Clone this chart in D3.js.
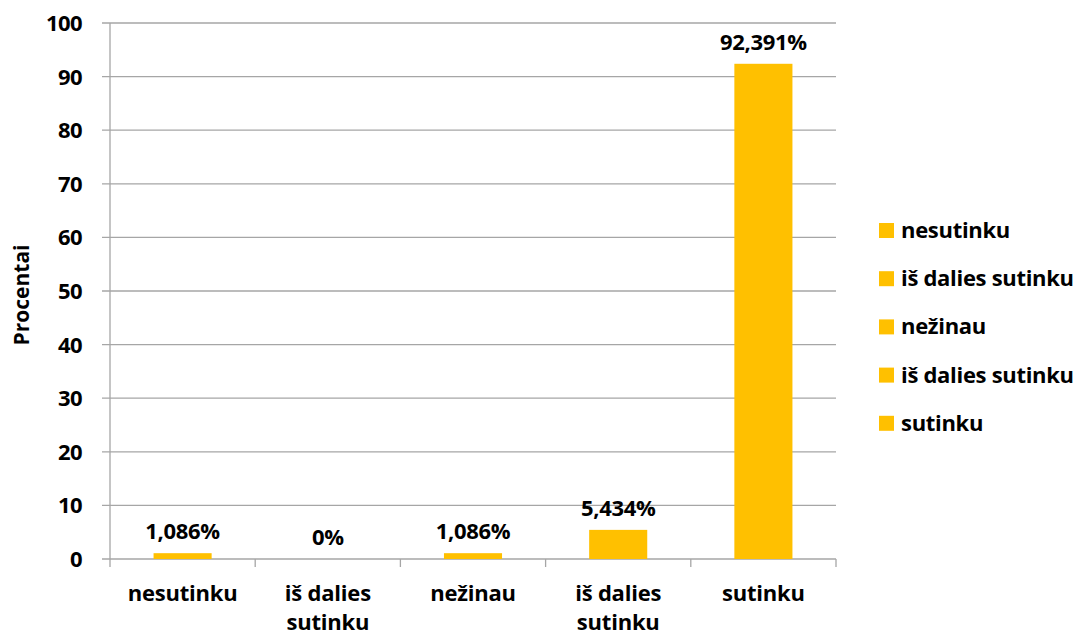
<!DOCTYPE html>
<html>
<head>
<meta charset="utf-8">
<script src="https://cdn.jsdelivr.net/npm/d3@7"></script>
<style>
  body { margin: 0; background: #fff; }
  text { font-family: "Open Sans", Lato, sans-serif; font-weight: bold; fill: #000; }
</style>
</head>
<body>
<div id="chart"></div>
<script>
// Data
const categories = ["nesutinku", "iš dalies sutinku", "nežinau", "iš dalies sutinku ", "sutinku"];
const axisLabels = [["nesutinku"], ["iš dalies", "sutinku"], ["nežinau"], ["iš dalies", "sutinku"], ["sutinku"]];
const values = [1.086, 0, 1.086, 5.434, 92.391];
const valueLabels = ["1,086%", "0%", "1,086%", "5,434%", "92,391%"];
const yTicks = [0, 10, 20, 30, 40, 50, 60, 70, 80, 90, 100];

const width = 1078, height = 636;
const margin = { top: 23, right: 242, bottom: 77, left: 110 };
const innerW = width - margin.left - margin.right;
const innerH = height - margin.top - margin.bottom;
const barColour = "#FFC000";
const gridColour = "#A6A6A6";
const fontSize = "22px";

const svg = d3.select("#chart")
  .append("svg")
  .attr("width", width)
  .attr("height", height);

const g = svg.append("g")
  .attr("transform", "translate(" + margin.left + "," + margin.top + ")");

// Scales
const x = d3.scaleBand()
  .domain(categories)
  .range([0, innerW])
  .paddingInner(0.6)
  .paddingOuter(0.3);
const xBand = d3.scaleBand().domain(categories).range([0, innerW]);
const y = d3.scaleLinear().domain([0, 100]).range([innerH, 0]);

// Gridlines
g.append("g")
  .selectAll("line")
  .data(yTicks)
  .enter()
  .append("line")
  .attr("x1", -8)
  .attr("x2", innerW)
  .attr("y1", d => y(d))
  .attr("y2", d => y(d))
  .attr("stroke", gridColour)
  .attr("stroke-width", 1.3);

// Y axis labels
g.append("g")
  .selectAll("text")
  .data(yTicks)
  .enter()
  .append("text")
  .attr("x", -28)
  .attr("y", d => y(d))
  .attr("dy", "0.36em")
  .attr("text-anchor", "end")
  .style("font-size", fontSize)
  .style("letter-spacing", "-0.6px")
  .text(d => d);

// Axis lines
g.append("line")
  .attr("x1", 0).attr("x2", 0)
  .attr("y1", 0).attr("y2", innerH)
  .attr("stroke", gridColour).attr("stroke-width", 1.3);

// X tick marks
const xTickPos = categories.map(c => xBand(c)).concat([innerW]);
g.append("g")
  .selectAll("line")
  .data(xTickPos)
  .enter()
  .append("line")
  .attr("x1", d => d).attr("x2", d => d)
  .attr("y1", innerH).attr("y2", innerH + 8)
  .attr("stroke", gridColour).attr("stroke-width", 1.3);

// Bars
g.append("g")
  .selectAll("rect")
  .data(values)
  .enter()
  .append("rect")
  .attr("x", (d, i) => x(categories[i]))
  .attr("width", x.bandwidth())
  .attr("y", d => y(d))
  .attr("height", d => innerH - y(d))
  .attr("fill", barColour);

// Value labels
g.append("g")
  .selectAll("text")
  .data(values)
  .enter()
  .append("text")
  .attr("x", (d, i) => xBand(categories[i]) + xBand.bandwidth() / 2)
  .attr("y", d => y(d) - 14)
  .attr("text-anchor", "middle")
  .style("font-size", fontSize)
  .style("letter-spacing", "-0.3px")
  .text((d, i) => valueLabels[i]);

// Category labels
const catG = g.append("g")
  .selectAll("text")
  .data(axisLabels)
  .enter()
  .append("text")
  .attr("text-anchor", "middle")
  .attr("transform", (d, i) => "translate(" + (xBand(categories[i]) + xBand.bandwidth() / 2) + "," + (innerH + 42) + ")")
  .style("font-size", fontSize)
  .style("letter-spacing", "-0.2px");
catG.selectAll("tspan")
  .data(d => d)
  .enter()
  .append("tspan")
  .attr("x", 0)
  .attr("dy", (d, i) => i === 0 ? 0 : "1.34em")
  .text(d => d);

// Y axis title
svg.append("text")
  .attr("transform", "translate(29," + (margin.top + innerH / 2 + 4) + ") rotate(-90)")
  .attr("text-anchor", "middle")
  .style("font-size", "21px")
  .text("Procentai");

// Legend
const legend = svg.append("g")
  .attr("transform", "translate(879,223)");
const legendItems = legend.selectAll("g")
  .data(categories)
  .enter()
  .append("g")
  .attr("transform", (d, i) => "translate(0," + (i * 48.2) + ")");
legendItems.append("rect")
  .attr("width", 15)
  .attr("height", 15)
  .attr("fill", barColour);
legendItems.append("text")
  .attr("x", 22)
  .attr("y", 7)
  .attr("dy", "0.36em")
  .style("font-size", fontSize)
  .style("letter-spacing", "-0.3px")
  .text(d => d.trim());
</script>
</body>
</html>
